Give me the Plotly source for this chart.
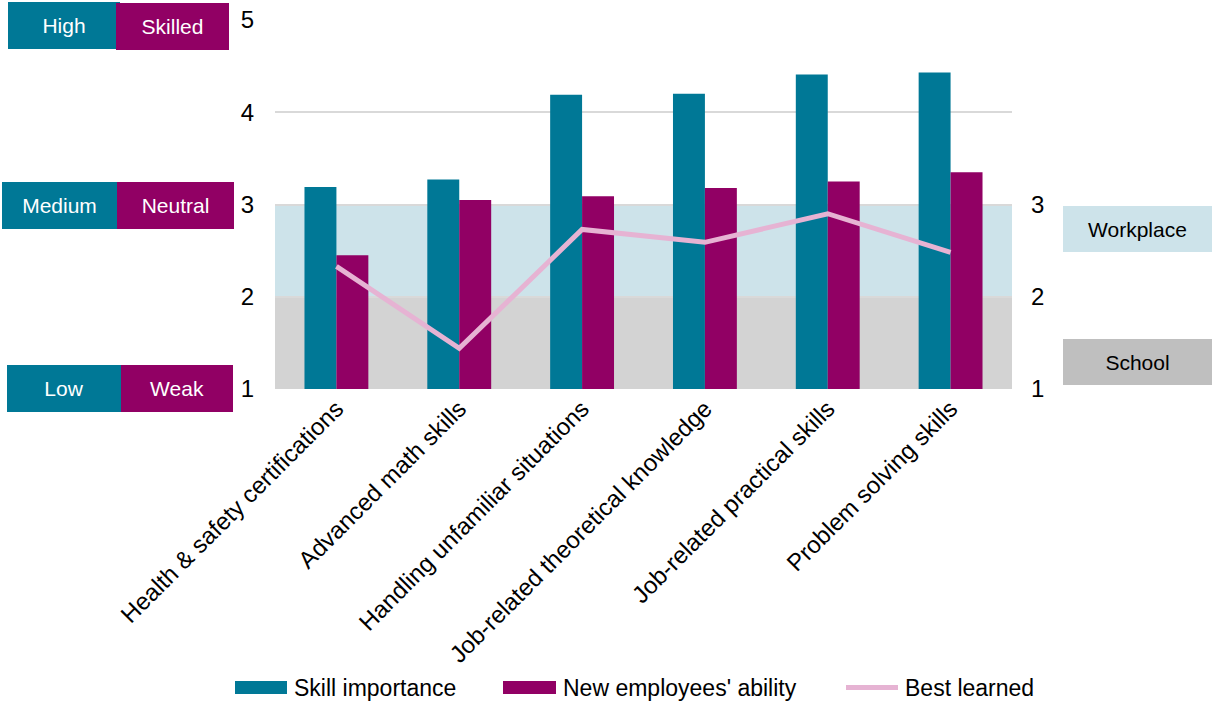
import plotly.graph_objects as go

categories = ["Health & safety certifications", "Advanced math skills",
              "Handling unfamiliar situations", "Job-related theoretical knowledge",
              "Job-related practical skills", "Problem solving skills"]
skill_importance = [3.19, 3.27, 4.19, 4.20, 4.41, 4.43]
new_employees_ability = [2.45, 3.05, 3.09, 3.18, 3.25, 3.35]
best_learned = [2.33, 1.44, 2.73, 2.59, 2.90, 2.48]

left_tick_vals = [1, 2, 3, 4, 5]
right_tick_vals = [1, 2, 3]
importance_labels = ["High", "Medium", "Low"]
ability_labels = ["Skilled", "Neutral", "Weak"]
band_workplace = (2, 3)
band_school = (1, 2)

TEAL = "#007896"
MAGENTA = "#910064"
PINK = "#e6b3d3"
BLUE_BAND = "#cde3ea"
GREY_BAND = "#d3d3d3"
GREY_BOX = "#bfbfbf"
FONT = "Liberation Sans, Arial, sans-serif"

# plot-area geometry in pixels (layout)
W, H = 1212, 701
L, R, T, B = 275, 200, 20, 312
PW, PH = W - L - R, H - T - B


def px_x(p):
    return (p - L) / PW


def px_y(p):
    return (H - B - p) / PH


fig = go.Figure()
fig.add_trace(go.Bar(x=categories, y=skill_importance, name="Skill importance",
                     marker=dict(color=TEAL, line=dict(width=0)), showlegend=False))
fig.add_trace(go.Bar(x=categories, y=new_employees_ability, name="New employees' ability",
                     marker=dict(color=MAGENTA, line=dict(width=0)), showlegend=False))
fig.add_trace(go.Scatter(x=categories, y=best_learned, name="Best learned", mode="lines",
                         line=dict(color=PINK, width=5), yaxis="y2", showlegend=False))

# background bands
fig.add_shape(type="rect", xref="paper", yref="y", x0=0, x1=1,
              y0=band_workplace[0], y1=band_workplace[1],
              fillcolor=BLUE_BAND, line=dict(width=0), layer="below")
fig.add_shape(type="rect", xref="paper", yref="y", x0=0, x1=1,
              y0=band_school[0], y1=band_school[1],
              fillcolor=GREY_BAND, line=dict(width=0), layer="below")

# left boxes: (center_x_px, center_y_px, width_px)
imp_boxes = [(64, 25.5, 112), (59.5, 205.5, 115), (64, 388, 114)]
abl_boxes = [(172.5, 26.5, 113), (175.5, 205.5, 117), (177, 388, 112)]
for txt, (cx, cy, w) in zip(importance_labels, imp_boxes):
    fig.add_annotation(xref="paper", yref="paper", x=px_x(cx), y=px_y(cy), text=txt,
                       xanchor="center", yanchor="middle",
                       showarrow=False, bgcolor=TEAL, width=w, height=47, borderpad=0,
                       borderwidth=0, font=dict(color="white", size=21, family=FONT))
for txt, (cx, cy, w) in zip(ability_labels, abl_boxes):
    fig.add_annotation(xref="paper", yref="paper", x=px_x(cx), y=px_y(cy), text=txt,
                       xanchor="center", yanchor="middle",
                       showarrow=False, bgcolor=MAGENTA, width=w, height=47, borderpad=0,
                       borderwidth=0, font=dict(color="white", size=21, family=FONT))

# right boxes
for txt, cy, col in [("Workplace", 229, BLUE_BAND), ("School", 362, GREY_BOX)]:
    fig.add_annotation(xref="paper", yref="paper", x=px_x(1137.5), y=px_y(cy), text=txt,
                       xanchor="center", yanchor="middle",
                       showarrow=False, bgcolor=col, width=149, height=46, borderpad=0,
                       borderwidth=0, font=dict(color="black", size=21, family=FONT))

# legend (drawn manually for wide swatches)
leg_y = 687.5
swatches = [("rect", 235, 287, TEAL, "Skill importance", 292),
            ("rect", 503, 556, MAGENTA, "New employees' ability", 561),
            ("line", 846, 898, PINK, "Best learned", 903)]
for kind, x0, x1, col, txt, tx in swatches:
    if kind == "rect":
        fig.add_shape(type="rect", xref="paper", yref="paper", x0=px_x(x0), x1=px_x(x1),
                      y0=px_y(leg_y - 6.5), y1=px_y(leg_y + 6.5), fillcolor=col,
                      line=dict(width=0))
    else:
        fig.add_shape(type="line", xref="paper", yref="paper", x0=px_x(x0), x1=px_x(x1),
                      y0=px_y(leg_y), y1=px_y(leg_y), line=dict(color=col, width=5))
    fig.add_annotation(xref="paper", yref="paper", x=px_x(tx), y=px_y(leg_y), text=txt,
                       xanchor="left", yanchor="middle", showarrow=False,
                       font=dict(color="black", size=23, family=FONT))

fig.update_layout(
    width=W, height=H,
    margin=dict(l=L, r=R, t=T, b=B, autoexpand=False),
    paper_bgcolor="white", plot_bgcolor="white",
    font=dict(family=FONT, size=23, color="black"),
    barmode="group", bargap=0.48, bargroupgap=0,
    showlegend=False,
    xaxis=dict(tickangle=-45, tickfont=dict(size=24), showgrid=False, showline=False,
               ticks="", automargin=False),
    yaxis=dict(range=[1, 5], tickvals=left_tick_vals, showgrid=True, gridcolor="#d9d9d9",
               gridwidth=2, zeroline=False, showline=False, ticklabelstandoff=20,
               tickfont=dict(size=24), automargin=False),
    yaxis2=dict(range=[1, 5], overlaying="y", side="right", tickvals=right_tick_vals,
                showgrid=False, zeroline=False, showline=False, ticklabelstandoff=18,
                tickfont=dict(size=24), automargin=False),
)

fig.write_html("out.html", config={"displayModeBar": False},
               post_script="document.body.style.margin='0';document.body.style.overflow='hidden';")
